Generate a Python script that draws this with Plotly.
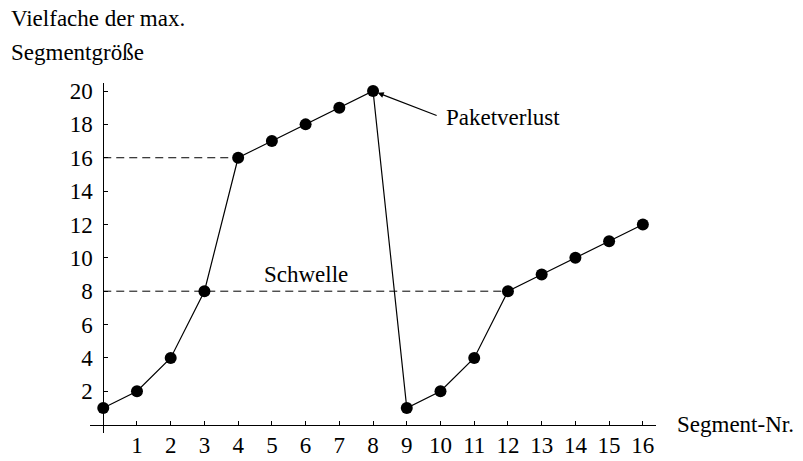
import plotly.graph_objects as go

segments = list(range(17))
window = [1, 2, 4, 8, 16, 17, 18, 19, 20, 1, 2, 4, 8, 9, 10, 11, 12]
x_ticks = list(range(1, 17))
y_ticks = list(range(2, 21, 2))
thresh1_x = [0, 4]
thresh1_y = [16, 16]
thresh2_x = [0, 12]
thresh2_y = [8, 8]

FONT = "Liberation Serif, Times New Roman, serif"
FS = 23

xr = [-0.393, 16.39]
yr = [-0.5, 20.48]


def xpaper(v):
    return (v - xr[0]) / (xr[1] - xr[0])


def ypaper(v):
    return (v - yr[0]) / (yr[1] - yr[0])


fig = go.Figure()
fig.add_trace(go.Scatter(x=thresh1_x, y=thresh1_y, mode="lines",
                         line=dict(color="black", width=1, dash="8px,5px"),
                         hoverinfo="skip", showlegend=False))
fig.add_trace(go.Scatter(x=thresh2_x, y=thresh2_y, mode="lines",
                         line=dict(color="black", width=1, dash="8px,5px"),
                         hoverinfo="skip", showlegend=False))
fig.add_trace(go.Scatter(x=segments, y=window, mode="lines+markers",
                         line=dict(color="black", width=1.2),
                         marker=dict(color="black", size=12),
                         showlegend=False, cliponaxis=False))

# page body has an 8px margin, so shift margins accordingly
fig.update_layout(
    width=803, height=461,
    margin=dict(l=82, r=155, t=75, b=36),
    paper_bgcolor="white", plot_bgcolor="white",
    font=dict(family=FONT, size=FS, color="black"),
    xaxis=dict(range=xr, domain=[0, 1], anchor="free",
               position=ypaper(0),
               showline=True, linecolor="black", linewidth=1,
               tickvals=x_ticks, ticks="inside", ticklen=4, tickcolor="black",
               showgrid=False, zeroline=False,
               tickfont=dict(family=FONT, size=FS, color="black")),
    yaxis=dict(range=yr, domain=[0, 1], anchor="free",
               position=xpaper(0),
               showline=True, linecolor="black", linewidth=1,
               tickvals=y_ticks, ticks="inside", ticklen=4, tickcolor="black",
               ticklabelstandoff=6,
               showgrid=False, zeroline=False,
               tickfont=dict(family=FONT, size=FS, color="black")),
    annotations=[
        dict(text="Vielfache der max.", xref="paper", yref="paper",
             x=-0.143, y=1.183, xanchor="left", yanchor="middle",
             showarrow=False, font=dict(size=FS)),
        dict(text="Segmentgröße", xref="paper", yref="paper",
             x=-0.143, y=1.086, xanchor="left", yanchor="middle",
             showarrow=False, font=dict(size=FS)),
        dict(text="Segment-Nr.", xref="paper", yref="paper",
             x=xpaper(16.95), y=ypaper(0),
             xanchor="left", yanchor="middle", showarrow=False,
             font=dict(size=FS)),
        dict(text="Schwelle", xref="x", yref="y", x=6.0, y=9.0,
             xanchor="center", yanchor="middle", showarrow=False,
             font=dict(size=FS)),
        dict(text="Paketverlust", xref="x", yref="y", x=10.1, y=18.4,
             xanchor="left", yanchor="middle", showarrow=False,
             font=dict(size=FS)),
        dict(text="", xref="x", yref="y", x=8, y=20,
             axref="x", ayref="y", ax=9.93, ay=18.5,
             showarrow=True, arrowhead=2, arrowsize=1, arrowwidth=1.2,
             arrowcolor="black", standoff=5),
    ],
)

fig.write_html("out.html")
